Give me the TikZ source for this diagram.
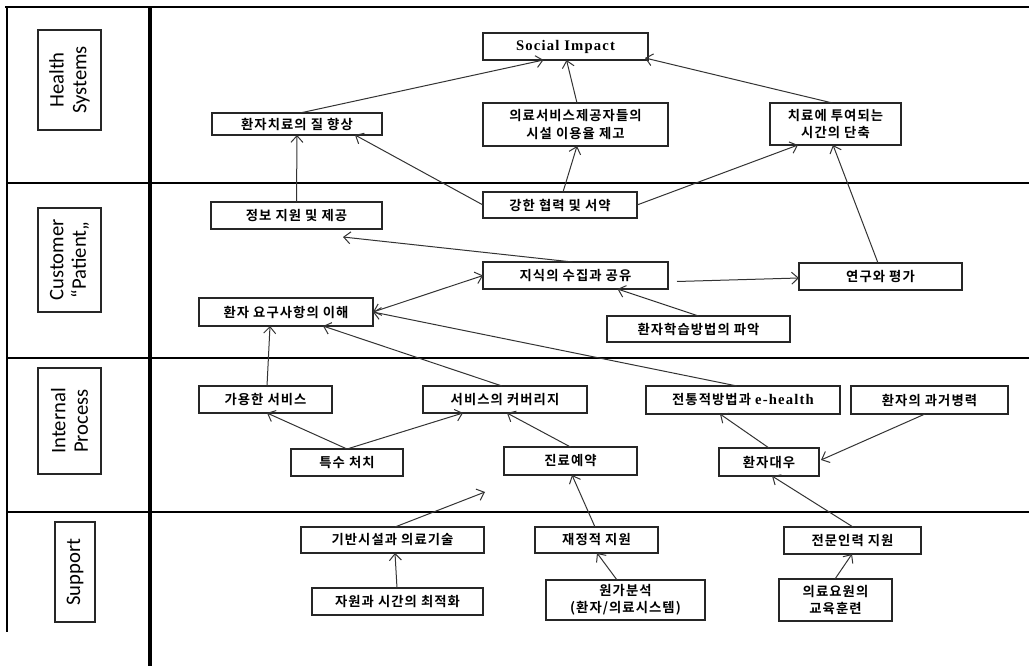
\documentclass[tikz,border=0pt]{standalone}
\usepackage{fontspec}
\setmainfont{Noto Sans CJK KR}
\newfontfamily\kr{Noto Sans CJK KR}[BoldFont={Noto Sans CJK KR Bold},LetterSpace=8]
\newfontfamily\ser{Liberation Serif}[LetterSpace=8]
\newfontfamily\lab{Carlito}
\usetikzlibrary{arrows.meta,calc}
\newcommand\BX[6]{%
  \pgfmathsetmacro\bxX{(#2+#4)/2}%
  \pgfmathsetmacro\bxY{(#3+#5)/2}%
  \pgfmathsetmacro\bxW{(#4-#2)*0.75}%
  \pgfmathsetmacro\bxH{(#5-#3)*0.75}%
  \node[box, minimum width=\bxW pt, minimum height=\bxH pt] (#1) at (\bxX,\bxY) {#6};}
\newcommand\LB[6]{%
  \pgfmathsetmacro\bxX{(#2+#4)/2}%
  \pgfmathsetmacro\bxY{(#3+#5)/2}%
  \pgfmathsetmacro\bxW{(#4-#2)*0.75}%
  \pgfmathsetmacro\bxH{(#5-#3)*0.75}%
  \node[lbl, rotate=90, minimum width=\bxH pt, minimum height=\bxW pt] (#1) at (\bxX,\bxY) {#6};}
\tikzset{
  box/.style={draw=black!85, line width=0.9pt, fill=white, inner sep=0pt, outer sep=0pt,
    align=center, font=\kr\bfseries\fontsize{10}{13}\selectfont},
  lbl/.style={draw=black!85, line width=0.9pt, fill=white, inner sep=0pt, outer sep=0pt,
    align=center, font=\lab\fontsize{15.5}{17}\selectfont},
  arr/.style={draw=black!80, line width=0.75pt, -{Straight Barb[length=5pt,width=9pt]}},
  darr/.style={draw=black!80, line width=0.75pt, {Straight Barb[length=5pt,width=9pt]}-{Straight Barb[length=5pt,width=9pt]}},
  frame/.style={draw=black, line width=2.2pt}
}
\begin{document}
\begin{tikzpicture}[x=0.75pt,y=-0.75pt]
\useasboundingbox (0,0) rectangle (1029,666);
% frame
\draw[frame, line width=1.8pt] (5,7) -- (1029,7);
\draw[draw=black, line width=1.2pt] (7,7) -- (7,632);
\draw[frame, line width=2.4pt] (150,7) -- (150,666);
\foreach \yy in {183,358,512} \draw[frame] (7,\yy) -- (1029,\yy);
% lane labels
\LB{lh}{38}{30}{101}{130}{Health\\Systems}
\LB{lc}{38}{208}{101}{312}{Customer\\“Patient„}
\LB{li}{38}{368}{101}{474}{Internal\\Process}
\LB{ls}{55}{522}{95}{622}{Support}
% boxes
\BX{SI}{483}{33}{648}{60}{{\ser\bfseries\fontsize{11}{12}\selectfont Social Impact}}
\BX{Q}{212}{113}{382}{135}{환자치료의 질 향상}
\BX{U}{483}{103}{668}{146}{의료서비스제공자들의\\시설 이용율 제고}
\BX{T}{770}{103}{901}{145}{치료에 투여되는\\시간의 단축}
\BX{C}{483}{192}{637}{218}{강한 협력 및 서약}
\BX{I}{211}{202}{382}{229}{정보 지원 및 제공}
\BX{K}{483}{262}{668}{289}{지식의 수집과 공유}
\BX{R}{799}{263}{962}{290}{연구와 평가}
\BX{N}{199}{298}{373}{326}{환자 요구사항의 이해}
\BX{L}{607}{316}{790}{342}{환자학습방법의 파악}
\BX{A}{199}{386}{332}{413}{가용한 서비스}
\BX{V}{423}{386}{587}{413}{서비스의 커버리지}
\BX{E}{646}{386}{840}{414}{전통적방법과 {\ser\bfseries\fontsize{11}{12}\selectfont e-health}}
\BX{H}{851}{386}{1008}{414}{환자의 과거병력}
\BX{S}{291}{449}{403}{476}{특수 처치}
\BX{B}{504}{447}{637}{475}{진료예약}
\BX{P}{719}{448}{819}{476}{환자대우}
\BX{F}{301}{527}{484}{553}{기반시설과 의료기술}
\BX{G}{535}{527}{658}{553}{재정적 지원}
\BX{M}{784}{527}{921}{554}{전문인력 지원}
\BX{O}{312}{588}{483}{615}{자원과 시간의 최적화}
\BX{W}{546}{580}{705}{620}{원가분석\\(환자/의료시스템)}
\BX{X}{779}{579}{892}{621}{의료요원의\\교육훈련}
\coordinate (kf) at (343,237);
\coordinate (ff) at (485,492);
% connectors
\draw[arr] ($(Q.north)+(3,0)$) -- ($(SI.south)+(-22,0)$);
\draw[arr] ($(U.north)+(1.5,0)$) -- ($(SI.south)+(1,0)$);
\draw[arr] ($(T.north)+(-3,0)$) -- ($(SI.south east)+(-3,-2)$);
\draw[arr] (C.west) -- ($(Q.south)+(58,0)$);
\draw[arr] ($(C.north)+(3,0)$) -- ($(U.south)+(1.5,0)$);
\draw[arr] (C.east) -- ($(T.south west)+(28,0)$);
\draw[arr] (I.north) -- (Q.south);
\draw[arr] ($(K.north)+(-3,0)$) -- (kf);
\draw[darr] (N.east) -- (K.west);
\draw[arr] ($(K.east)+(9,6)$) -- ($(R.west)+(0,1.5)$);
\draw[arr] ($(R.north)+(-2.5,0)$) -- ($(T.south)+(-2.5,0)$);
\draw[arr] (L.north) -- ($(K.south)+(42,0)$);
\draw[arr] ($(E.north)+(-6,0)$) -- (N.east);
\draw[arr] ($(V.north)+(-3,0)$) -- ($(N.south)+(37,0)$);
\draw[arr] ($(A.north)+(1.5,0)$) -- ($(N.south)+(-16,0)$);
\draw[arr] (S.north) -- ($(A.south)+(1.5,0)$);
\draw[arr] (S.north) -- ($(V.south)+(-42,0)$);
\draw[arr] (B.north) -- ($(V.south)+(2,0)$);
\draw[arr] (P.north) -- ($(E.south)+(-23,0)$);
\draw[arr] ($(H.south)+(-4.5,0)$) -- ($(P.east)+(2,-2)$);
\draw[arr] ($(F.north)+(2.5,0)$) -- (ff);
\draw[arr] ($(G.north)+(-1.5,0)$) -- ($(B.south)+(1.5,0)$);
\draw[arr] ($(M.north)+(0.5,0)$) -- ($(P.south)+(3,0)$);
\draw[arr] ($(O.north)+(-0.5,0)$) -- ($(F.south)+(2.5,0)$);
\draw[arr] ($(W.north)+(-8.5,0)$) -- ($(G.south)+(0.5,0)$);
\draw[arr] ($(X.north)+(-0.5,0)$) -- ($(M.south)+(-0.5,0)$);
\end{tikzpicture}
\end{document}
